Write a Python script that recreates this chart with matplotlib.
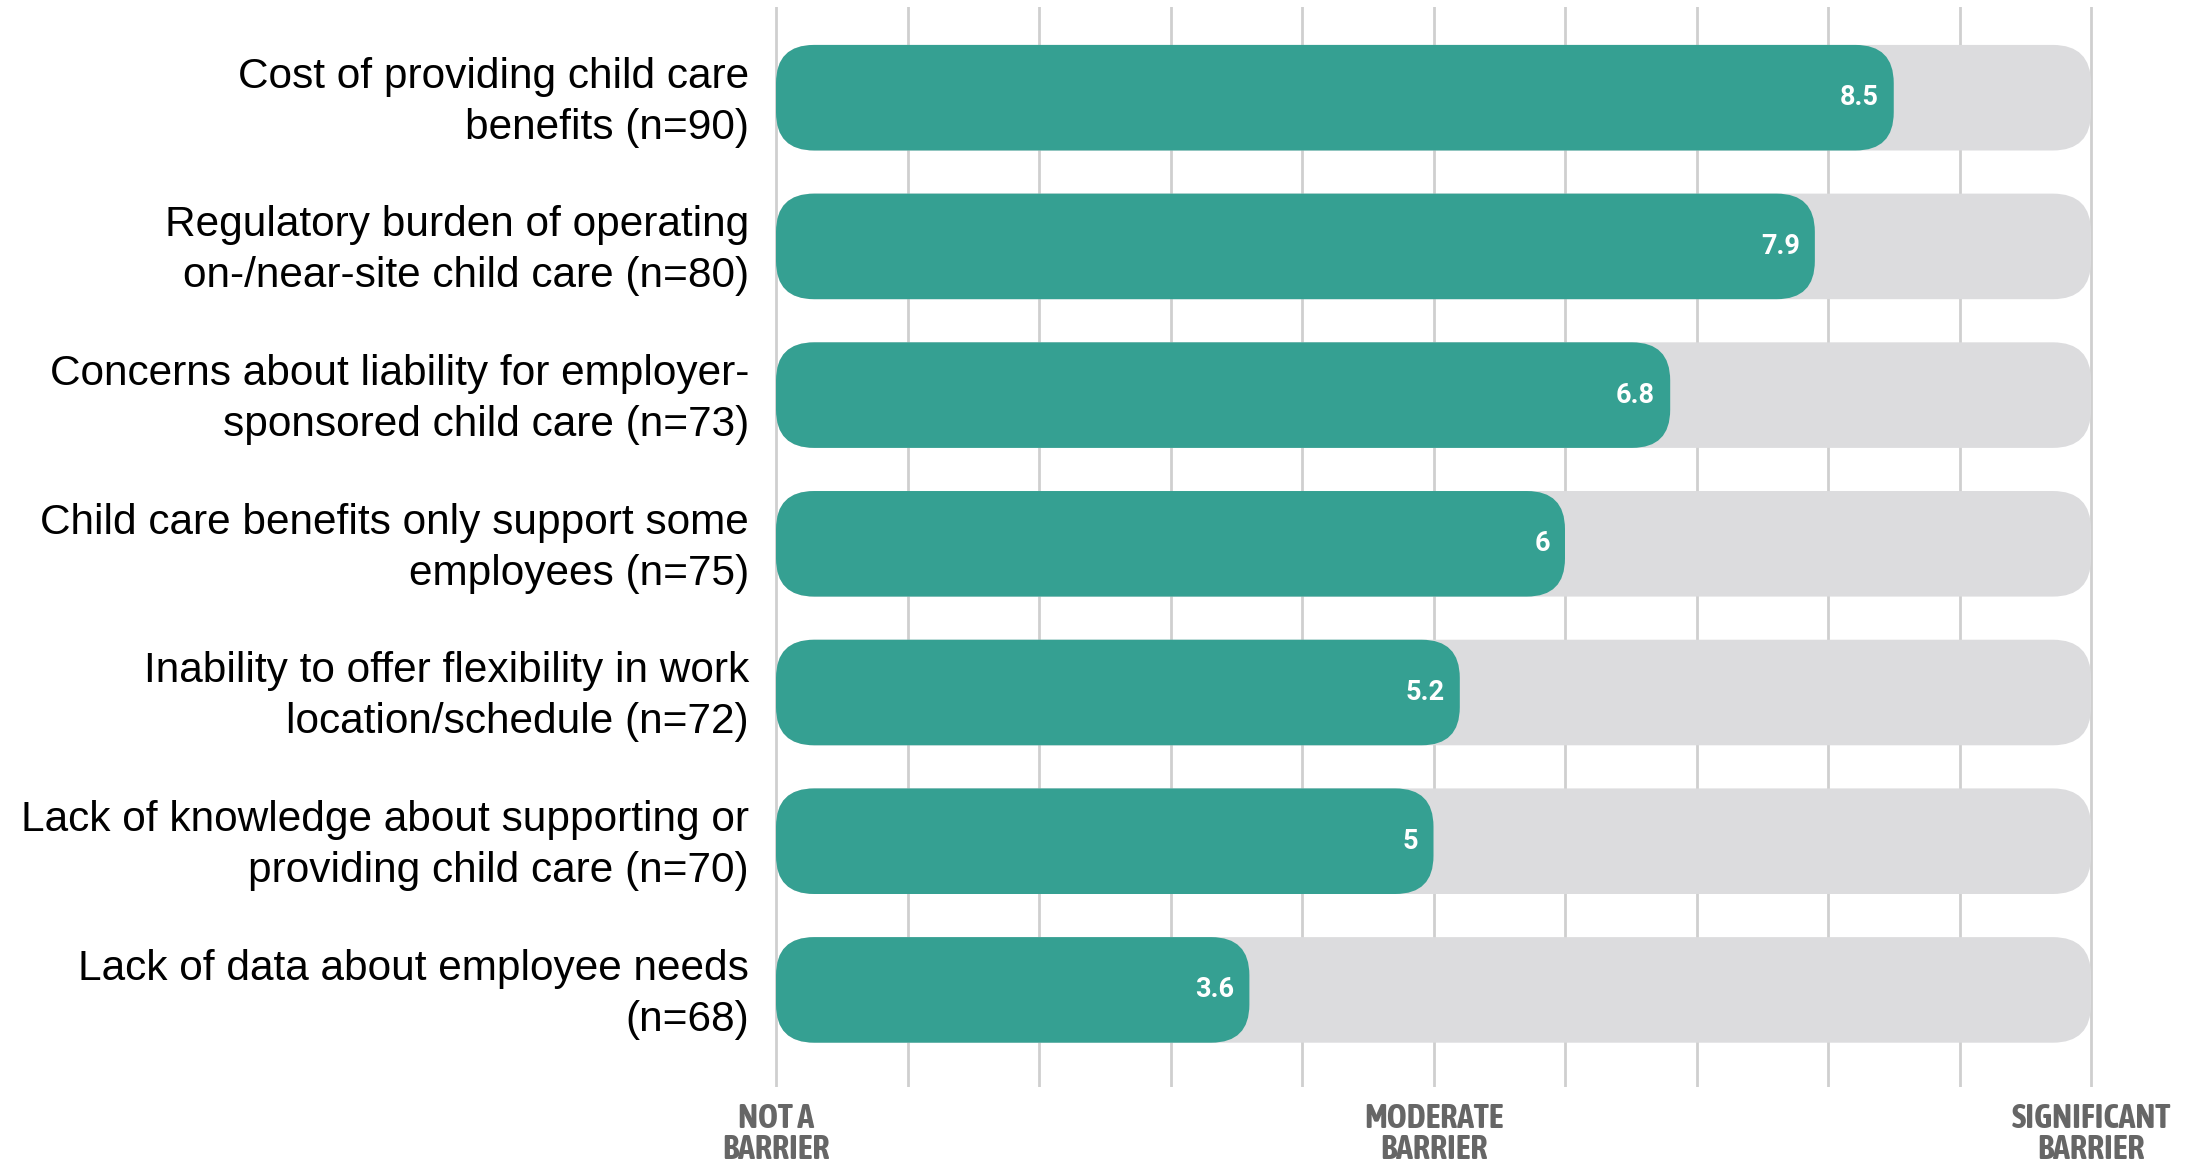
import matplotlib.pyplot as plt
from matplotlib import font_manager
from matplotlib.patches import FancyBboxPatch
from matplotlib.transforms import ScaledTranslation

labels = [
    "Cost of providing child care\nbenefits (n=90)",
    "Regulatory burden of operating\non-/near-site child care (n=80)",
    "Concerns about liability for employer-\nsponsored child care (n=73)",
    "Child care benefits only support some\nemployees (n=75)",
    "Inability to offer flexibility in work\nlocation/schedule (n=72)",
    "Lack of knowledge about supporting or\nproviding child care (n=70)",
    "Lack of data about employee needs\n(n=68)",
]
scores = [8.5, 7.9, 6.8, 6, 5.2, 5, 3.6]
score_text = ["8.5", "7.9", "6.8", "6", "5.2", "5", "3.6"]
scale_max = 10
scale_ticks = [0, 5, 10]
scale_labels = ["NOT A\nBARRIER", "MODERATE\nBARRIER", "SIGNIFICANT\nBARRIER"]

TEAL = "#35a092"
TRACK = "#dcdcde"
GRID = "#cfcfcf"

# look for a narrow bold face for the scale labels
narrow = None
for f in font_manager.fontManager.ttflist:
    if ("Narrow" in f.name or "Condensed" in f.name) and f.weight in (700, "bold"):
        narrow = f.fname
        break
for f in font_manager.fontManager.ttflist:
    if narrow is None and f.stretch in ("condensed", "semi-condensed") and f.weight in (700, "bold"):
        narrow = f.fname

W, H = 2200, 1164
fig = plt.figure(figsize=(W / 100, H / 100), dpi=100)

px_x = 131.5    # pixels per x unit
px_y = 148.7    # pixels per row
x0, x1 = -0.1, 10.1
y0, y1 = -0.61, 6.65
left = 776 - 0.1 * px_x
top = 7
ax = fig.add_axes([left / W, 1 - (top + (y1 - y0) * px_y) / H,
                   (x1 - x0) * px_x / W, (y1 - y0) * px_y / H])
ax.set_xlim(x0, x1)
ax.set_ylim(y1, y0)

bar_h = 0.71
r = 0.29
aspect = px_x / px_y

# grid lines behind the bars
ax.set_xticks(range(scale_max + 1))
ax.set_xticklabels([scale_labels[scale_ticks.index(i)] if i in scale_ticks else ""
                    for i in range(scale_max + 1)])
ax.grid(axis="x", color=GRID, lw=2, zorder=0)
ax.set_axisbelow(True)
ax.tick_params(axis="x", length=0, pad=11, labelcolor="#666666")
for t in ax.get_xticklabels():
    if narrow:
        t.set_fontproperties(font_manager.FontProperties(fname=narrow, size=24.5))
    else:
        t.set_fontsize(20)
        t.set_fontweight("bold")
    t.set_linespacing(0.92)

for i, (v, s) in enumerate(zip(scores, score_text)):
    track = FancyBboxPatch((0, i - bar_h / 2), scale_max, bar_h,
                           boxstyle=f"round,pad=0,rounding_size={r}",
                           mutation_aspect=aspect, fc=TRACK, ec="none", zorder=2)
    ax.add_patch(track)
    bar = FancyBboxPatch((0, i - bar_h / 2), v, bar_h,
                         boxstyle=f"round,pad=0,rounding_size={r}",
                         mutation_aspect=aspect, fc=TEAL, ec="none", zorder=3)
    ax.add_patch(bar)
    ax.text(v - 0.115, i, s, ha="right", va="center", color="white",
            fontsize=19.5, fontweight="bold", family="Roboto", zorder=4)

ax.set_yticks(range(len(labels)))
ax.set_yticklabels(labels, fontsize=30.5, family="Liberation Sans", linespacing=1.35)
ax.tick_params(axis="y", length=0, pad=10)
shift = ScaledTranslation(0, 4 / 72, fig.dpi_scale_trans)
for t in ax.get_yticklabels():
    t.set_transform(t.get_transform() + shift)

for sp in ax.spines.values():
    sp.set_visible(False)

fig.savefig("out.png", dpi=100)
